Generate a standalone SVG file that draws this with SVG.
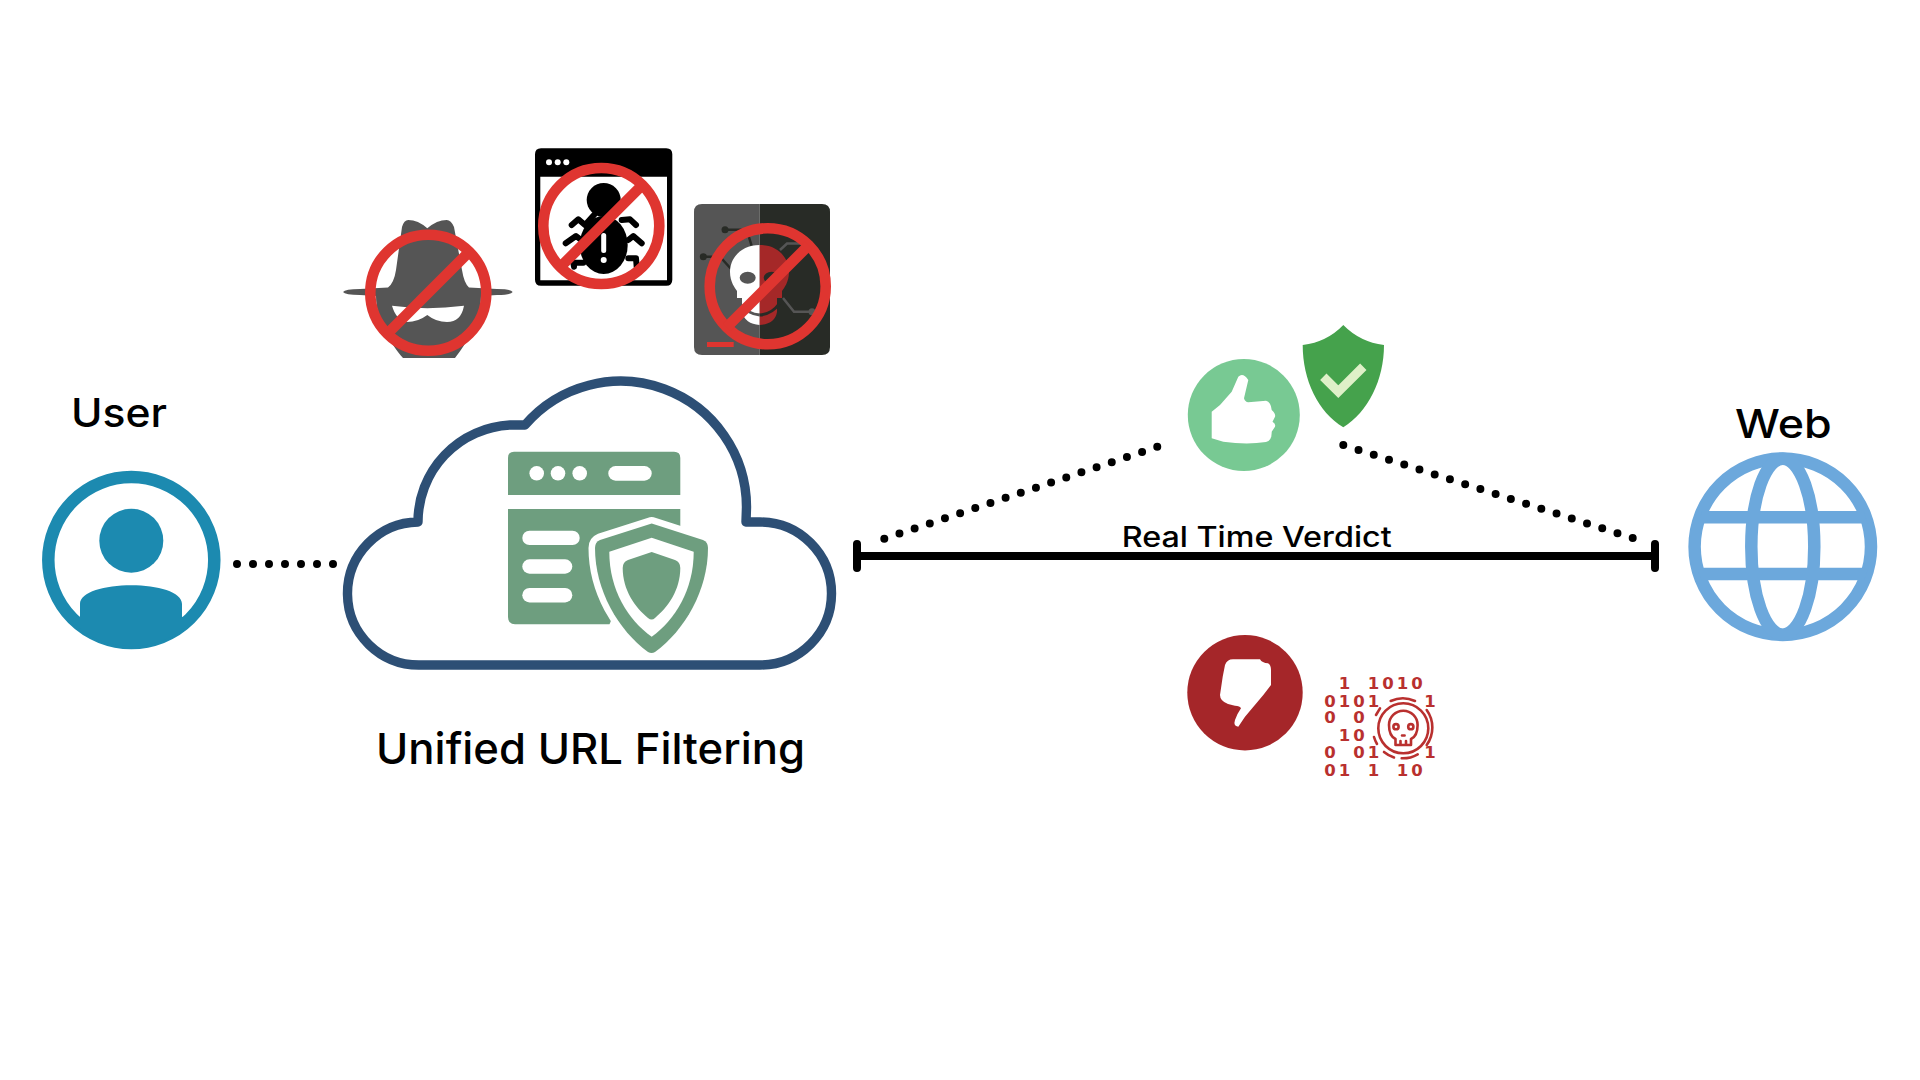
<svg xmlns="http://www.w3.org/2000/svg" width="1920" height="1080" viewBox="0 0 1920 1080">
<style>
.lbl{font-family:"Inter","Liberation Sans",sans-serif;font-weight:500;fill:#000}
.dots{fill:none;stroke:#000;stroke-width:8;stroke-linecap:round;stroke-dasharray:0 16}
.bin{font-family:"DejaVu Sans","Liberation Sans",sans-serif;font-weight:700;font-size:16.5px;fill:#b9302f;text-anchor:middle}
.sk{fill:none;stroke:#b9302f;stroke-width:2.6;stroke-linecap:round;stroke-linejoin:round}
.leg{fill:none;stroke:#000;stroke-width:6;stroke-linecap:round;stroke-linejoin:round}
.wh{fill:#fff}.gr{fill:#6e9e7f}
</style>
<defs>
<g id="no" fill="none" stroke="#df3530" stroke-width="10.6"><circle r="58"/><path d="M-41 41L41-41"/></g>
<clipPath id="gc"><circle cx="1782.8" cy="546.7" r="88"/></clipPath>
</defs>
<rect width="1920" height="1080" fill="#fff"/>

<g id="connectors">
<path class="dots" d="M237 564H334"/>
<path class="dots" d="M884.3 538.7L1157.9 446.6"/>
<path class="dots" d="M1343.3 445L1633.4 538.3"/>
<path d="M857 556H1655M857 544V568M1655 544V568" fill="none" stroke="#000" stroke-width="8" stroke-linecap="round"/>
<text class="lbl" x="1121.7" y="546.7" font-size="28" textLength="270" lengthAdjust="spacingAndGlyphs">Real Time Verdict</text>
</g>

<g id="user">
<text class="lbl" x="71" y="427" font-size="40" textLength="96" lengthAdjust="spacingAndGlyphs">User</text>
<circle cx="131.3" cy="560" r="83" fill="none" stroke="#1c8ab0" stroke-width="12.5"/>
<circle cx="131.3" cy="540.7" r="32" fill="#1c8ab0"/>
<path d="M80 616.7V604C80 592 105 585.3 131.3 585.3S182 592 182 604V616.7L193 620A85 85 0 0 1 70 620Z" fill="#1c8ab0"/>
</g>

<g id="cloud">
<path d="M525 425A126 126 0 0 1 746.5 507L746 522H760A71.5 71.5 0 0 1 760 665H420A71.5 71.5 0 0 1 418 522A97 97 0 0 1 510 425Z" fill="#fff" stroke="#2d4f75" stroke-width="9.4" stroke-linejoin="round"/>
<path class="gr" d="M508 495V458Q508 451.7 514 451.7H674Q680.3 451.7 680.3 458V495Z"/>
<circle class="wh" cx="536.7" cy="473.3" r="7.3"/><circle class="wh" cx="558" cy="473.3" r="7.3"/><circle class="wh" cx="579.7" cy="473.3" r="7.3"/>
<rect class="wh" x="608.3" y="466" width="43.4" height="14.7" rx="7.3"/>
<path class="gr" d="M508 509H680.3V530L640 540L620 600L609.5 624.3H515Q508 624.3 508 617Z"/>
<rect class="wh" x="522.3" y="530.7" width="57.4" height="14.4" rx="7.2"/>
<rect class="wh" x="522.3" y="559.3" width="50" height="14.4" rx="7.2"/>
<rect class="wh" x="522.3" y="588" width="50" height="14.4" rx="7.2"/>
<path class="gr" stroke="#fff" stroke-width="13" stroke-linejoin="round" paint-order="stroke" d="M651.7 523.5L703 540Q708 542 708 548C708 590 685 630 655 652Q651.7 654 648 652C618 630 595 590 595 548Q595 542 600 540Z"/>
<path class="wh" d="M651.7 537.7L693.7 551.7C693.7 590 675 620 651.7 636.7C628 620 609.3 590 609.3 551.7Z"/>
<path class="gr" d="M651.7 552L675 560Q680.3 562 680.3 568C680.3 590 668 607 655 618Q651.7 621 648 618C635 607 622.7 590 622.7 568Q622.7 562 628 560Z"/>
<text class="lbl" x="376" y="764" font-size="43" textLength="429" lengthAdjust="spacingAndGlyphs">Unified URL Filtering</text>
</g>

<g id="spy">
<path d="M343 292Q345 289 360 289L388 287.5Q394 283 396 270L402 227Q404 220 408.3 220Q418 220 427.3 228.3Q437 220 446.7 220Q451 220 454 227L462 270Q464 283 469 287.5L497 289Q511 289 512.7 292Q511 295 497 295L481 296C481 322 465 345 455 358H403C392 345 376 322 376 296L360 295Q345 295 343 292Z" fill="#555"/>
<path class="wh" d="M392 305.7Q410 308 427.3 308.3Q445 308 464 305.7Q461 322 447 322Q436 322 427.3 315Q418 322 407 322Q396 320 392 305.7Z"/>
<use href="#no" x="428.3" y="292.7"/>
</g>

<g id="bug">
<path fill-rule="evenodd" d="M541 148.3H666.3Q672.3 148.3 672.3 154.3V279.7Q672.3 285.7 666.3 285.7H541Q535 285.7 535 279.7V154.3Q535 148.3 541 148.3ZM540.3 176.7V280.3H667V176.7Z"/>
<circle class="wh" cx="549" cy="162.3" r="3"/><circle class="wh" cx="557.7" cy="162.3" r="3"/><circle class="wh" cx="566.3" cy="162.3" r="3"/>
<circle cx="603.7" cy="200" r="17"/>
<ellipse cx="603.7" cy="245" rx="24" ry="29"/>
<path class="leg" d="M571.7 225L578.3 219.3L585 225L594 215M565.7 243.3L576 236L583.3 241.7M574 266.7L573.3 262.7H583.3M636 225L630 219.3L621.7 220M641.7 243.3L633.3 236L628.3 240M636.7 266.7L636 258.3H628.3"/>
<rect class="wh" x="601.2" y="233" width="5" height="20" rx="2.5"/>
<circle class="wh" cx="603.7" cy="260" r="3"/>
<use href="#no" x="601.3" y="226"/>
</g>

<g id="skull">
<path d="M702 204H759.7V355H702Q694 355 694 347V212Q694 204 702 204Z" fill="#555"/>
<path d="M759.7 204H822Q830 204 830 212V347Q830 355 822 355H759.7Z" fill="#282b26"/>
<path d="M725 229.7H746.7L752 247M703.3 256.7H720L732 270" fill="none" stroke="#282b26" stroke-width="2.5"/>
<circle cx="725" cy="229.7" r="3.5" fill="#282b26"/><circle cx="703.3" cy="256.7" r="3.5" fill="#282b26"/>
<path d="M780 250L787 243.5H802M783 298L794 311.7H812" fill="none" stroke="#555" stroke-width="2.5"/>
<circle cx="812" cy="311.7" r="3.5" fill="#555"/>
<path class="wh" d="M759.7 245C741 245 730 258 730 272C730 282 735 288 737 291V298H742V312Q745 324 759.7 325Z"/>
<path d="M759.7 245C778 245 789 258 789 272C789 282 784 288 782 291V298H777V312Q775 324 759.7 325Z" fill="#a52828"/>
<ellipse cx="747.7" cy="277.7" rx="8" ry="6" fill="#555"/>
<ellipse cx="771.7" cy="277.7" rx="8" ry="6" fill="#282b26"/>
<path d="M742 305Q748 314 759.7 315" fill="none" stroke="#555" stroke-width="3"/>
<path d="M759.7 315Q772 314 779 304" fill="none" stroke="#282b26" stroke-width="3"/>
<rect x="707" y="342" width="26.7" height="5" fill="#df3530"/>
<use href="#no" x="767.7" y="286.3"/>
</g>

<g id="verdict-good">
<circle cx="1243.8" cy="415" r="56" fill="#78c993"/>
<path class="wh" d="M1211.7 411.7L1220 405L1231.7 391.7L1238.3 376.7Q1243 372 1248.3 380L1244 398.3Q1245 402 1248.3 402.3L1266 400.7Q1271 402 1271.7 410Q1276 414 1275 416.7L1272.5 421.7Q1276 424 1275 426.7L1271.7 431.7Q1272 441 1266 442Q1246.7 445 1223.3 441.7L1211.7 438.3Z"/>
<path d="M1343.3 325Q1360 342 1384 345C1384 380 1368 412 1343.3 427.3C1318 412 1302.7 380 1302.7 345Q1327 342 1343.3 325Z" fill="#45a24c"/>
<path d="M1323.3 376.7L1338.3 391.7L1363.3 366.7" fill="none" stroke="#dff0c8" stroke-width="9"/>
</g>

<g id="verdict-bad">
<circle cx="1245" cy="692.7" r="57.7" fill="#a52629"/>
<path class="wh" d="M1225 665Q1227 659.3 1233 659.3H1260Q1262 663 1268 663.3Q1271 665 1271 670V685L1263.3 695L1245 716.7L1238.3 726.7Q1233 726 1235 720Q1237 714 1241 708.3Q1240 705.7 1235 705.7L1228 704Q1220 701 1220 695L1222.7 676.7Z"/>
<text class="bin" y="689" x="1344.5 1373.5 1388 1402.5 1417">11010</text>
<text class="bin" y="706.7" x="1330 1344.5 1359 1373.5 1430">01011</text>
<text class="bin" y="723.3" x="1330 1359">00</text>
<text class="bin" y="741" x="1344.5 1359">10</text>
<text class="bin" y="758.3" x="1330 1359 1373.5 1430">0011</text>
<text class="bin" y="775.7" x="1330 1344.5 1373.5 1402.5 1417">01110</text>
<circle class="sk" cx="1403.3" cy="728.3" r="25"/>
<path class="sk" d="M1390.7 701A30 30 0 0 1 1415 701M1426.7 710A30 30 0 0 1 1426.7 745M1401.7 758.3A30 30 0 0 0 1417.7 754.3M1374 737A30 30 0 0 0 1377 744M1384 752A30 30 0 0 0 1394 757.5M1376 715L1380 708.3"/>
<path class="sk" d="M1395.5 745V739Q1389 736 1389 725A14.3 14.3 0 0 1 1417.6 725Q1417.6 736 1411 739V745ZM1400.5 741V745M1406 741V745M1402 735.5H1404.6"/>
<circle class="sk" cx="1396" cy="726.7" r="2.6" stroke-width="2"/><circle class="sk" cx="1410.8" cy="726.7" r="2.6" stroke-width="2"/>
</g>

<g id="web">
<text class="lbl" x="1735" y="438.3" font-size="40" textLength="96.7" lengthAdjust="spacingAndGlyphs">Web</text>
<g fill="none" stroke="#6ca8dc" stroke-width="12.5">
<circle cx="1782.8" cy="546.7" r="88.2"/>
<ellipse cx="1782.8" cy="546.7" rx="31.5" ry="88"/>
<path clip-path="url(#gc)" d="M1690 517.2H1876M1690 573.9H1876"/>
</g>
</g>
</svg>
